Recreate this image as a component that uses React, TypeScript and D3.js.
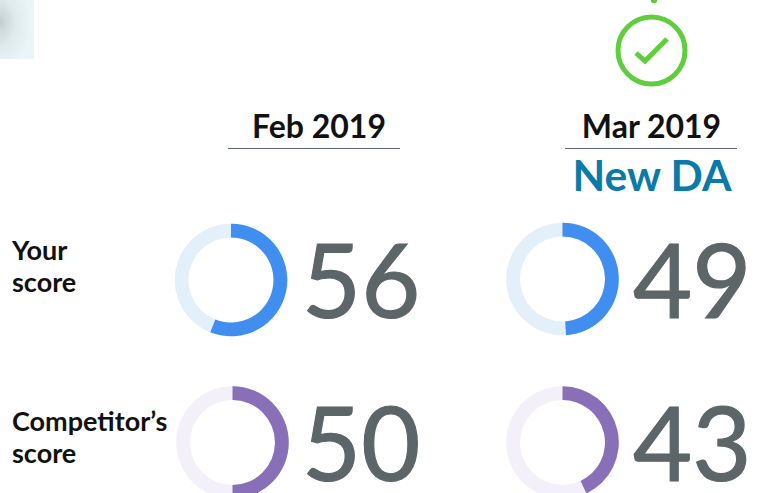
import React from "react";
import * as d3 from "d3";

const periods = ["Feb 2019", "Mar 2019"];
const rows = ["Your score", "Competitor’s score"];
const yourScores = [56, 49];
const competitorScores = [50, 43];
const scoreMax = 100;

const trackColors = ["#e3f0fa", "#f3f0fa"];
const valueColors = ["#3f8ef0", "#8870b8"];
const centers = [
  [[231, 280], [562.5, 279]],
  [[232.5, 442.5], [562.5, 442.5]],
];
const numberX = [[302, 633], [302, 633]];
const numberY = [318, 481];

const arcGen = d3.arc().innerRadius(42.5).outerRadius(56.3);
const angle = d3.scaleLinear().domain([0, scoreMax]).range([0, 2 * Math.PI]);

function Donut({ cx, cy, value, row }: any) {
  const track = arcGen({ startAngle: 0, endAngle: 2 * Math.PI } as any) as string;
  const val = arcGen({ startAngle: 0, endAngle: angle(value) } as any) as string;
  return (
    <g transform={`translate(${cx},${cy})`}>
      <path d={track} fill={trackColors[row]} />
      <path d={val} fill={valueColors[row]} />
    </g>
  );
}

export default function App() {
  const font = "Lato, sans-serif";
  const series = [yourScores, competitorScores];
  return (
    <svg width={760} height={493} style={{ position: "absolute", left: 0, top: 0, background: "#fff" }} fontFamily={font}>
      <defs>
        <radialGradient id="g" cx="0" cy="0.42" r="0.9" gradientTransform="scale(1 0.9)">
          <stop offset="0" stopColor="#c3cfcf" />
          <stop offset="0.5" stopColor="#dfeaec" />
          <stop offset="1" stopColor="#e9f5f7" />
        </radialGradient>
      </defs>
      <rect x={0} y={0} width={34} height={59} fill="url(#g)" />
      <circle cx={654} cy={0} r={3.2} fill="#5fce3c" />
      <circle cx={651.5} cy={50.5} r={33.5} fill="none" stroke="#5fce3c" strokeWidth={5} />
      <path d="M636 53 L645 61 L667 39" fill="none" stroke="#5fce3c" strokeWidth={5} />

      <text x={319} y={138} textAnchor="middle" fontSize={32} fontWeight={700} fill="#111">{periods[0]}</text>
      <text x={651.5} y={138} textAnchor="middle" fontSize={32} fontWeight={700} fill="#111">{periods[1]}</text>
      <line x1={228} x2={400} y1={148.5} y2={148.5} stroke="#5d6670" strokeWidth={1} />
      <line x1={565} x2={737} y1={148.5} y2={148.5} stroke="#5d6670" strokeWidth={1} />
      <text x={652} y={190.5} textAnchor="middle" fontSize={42.5} fontWeight={700} fill="#0a7aa8">New DA</text>

      <text fontSize={27} fontWeight={700} fill="#111">
        <tspan x={12} y={260}>{rows[0].split(" ")[0]}</tspan>
        <tspan x={12} y={292}>{rows[0].split(" ")[1]}</tspan>
      </text>
      <text fontSize={27} fontWeight={700} fill="#111">
        <tspan x={12} y={431}>{rows[1].split(" ")[0]}</tspan>
        <tspan x={12} y={463}>{rows[1].split(" ")[1]}</tspan>
      </text>

      {series.map((vals, r) =>
        vals.map((v, c) => (
          <g key={`${r}-${c}`}>
            <Donut cx={centers[r][c][0]} cy={centers[r][c][1]} value={v} row={r} />
            <text x={numberX[r][c]} y={numberY[r]} fontSize={102} fill="#5c6568" stroke="#5c6568" strokeWidth={1.2}>{v}</text>
          </g>
        ))
      )}
    </svg>
  );
}
